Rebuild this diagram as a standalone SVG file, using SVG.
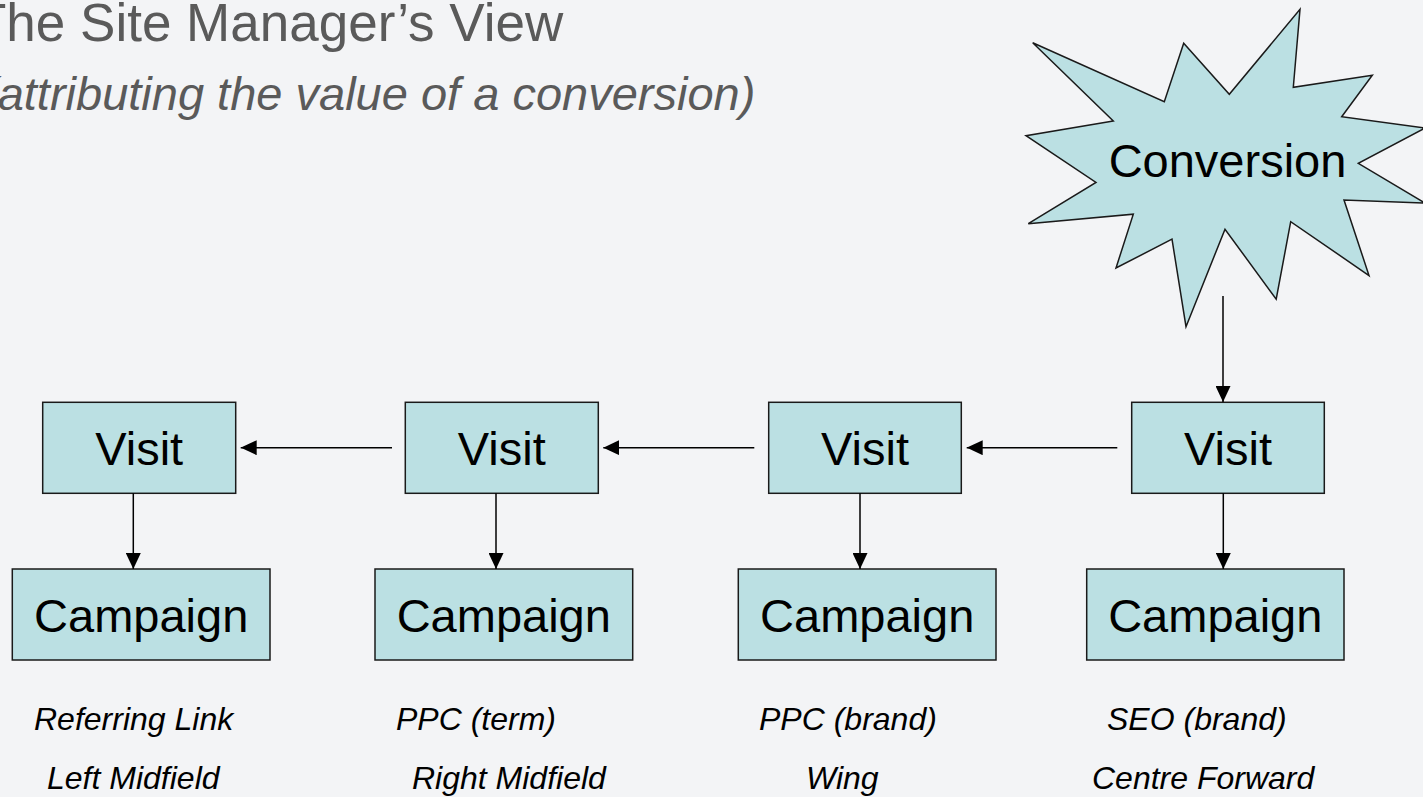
<svg xmlns="http://www.w3.org/2000/svg" width="1423" height="797" viewBox="0 0 1423 797">
  <style>
    .box { fill: #BBE0E3; stroke: #1a1a1a; stroke-width: 1.5; }
    .node-text { font-family: "Liberation Sans", Arial, sans-serif; font-size: 47px; fill: #000; text-anchor: middle; }
    .label { font-family: "Liberation Sans", Arial, sans-serif; font-size: 32px; font-style: italic; fill: #000; }
    .title { font-family: "Liberation Sans", Arial, sans-serif; fill: #5a5a5a; }
    .conn { stroke: #000; stroke-width: 1.5; fill: none; marker-end: url(#arrow); }
  </style>
  <defs>
    <marker id="arrow" viewBox="0 0 16 15" refX="16" refY="7.5" markerWidth="16" markerHeight="15" markerUnits="userSpaceOnUse" orient="auto">
      <path d="M0,0 L16,7.5 L0,15 z" fill="#000"/>
    </marker>
  </defs>
  <rect x="0" y="0" width="1423" height="797" fill="#F3F4F6"/>

  <g id="title">
    <text class="title" x="-26" y="41" font-size="53">The Site Manager’s View</text>
    <text class="title" x="-18" y="110" font-size="47" font-style="italic">(attributing the value of a conversion)</text>
  </g>

  <g id="conversion">
    <polygon class="box" points="1032.7,42.7 1164.3,101.7 1183.7,43.3 1229.3,94.3 1300,9.3 1293.3,87.3 1372.3,75.3 1341.7,116.7 1425,128 1358.3,163.3 1425,203 1344,200 1369,275.5 1290.7,221.7 1276.2,299.2 1225,229.2 1186,326.7 1172,239.2 1116,268 1133.3,214.2 1028.3,223.7 1096,182.5 1026,135.7 1113.3,121"/>
    <text class="node-text" x="1227.5" y="177" font-size="48">Conversion</text>
  </g>

  <g id="visit1">
    <rect class="box" x="42.7" y="402.3" width="193" height="91"/>
    <text class="node-text" x="139.2" y="465">Visit</text>
  </g>
  <g id="visit2">
    <rect class="box" x="405.3" y="402.3" width="193" height="91"/>
    <text class="node-text" x="501.8" y="465">Visit</text>
  </g>
  <g id="visit3">
    <rect class="box" x="768.7" y="402.3" width="192.6" height="91"/>
    <text class="node-text" x="865" y="465">Visit</text>
  </g>
  <g id="visit4">
    <rect class="box" x="1131.7" y="402.3" width="192.6" height="91"/>
    <text class="node-text" x="1228" y="465">Visit</text>
  </g>

  <g id="campaign1">
    <rect class="box" x="12.3" y="569" width="257.7" height="91"/>
    <text class="node-text" x="141.2" y="632">Campaign</text>
  </g>
  <g id="campaign2">
    <rect class="box" x="375" y="569" width="257.7" height="91"/>
    <text class="node-text" x="503.8" y="632">Campaign</text>
  </g>
  <g id="campaign3">
    <rect class="box" x="738.3" y="569" width="257.7" height="91"/>
    <text class="node-text" x="867.2" y="632">Campaign</text>
  </g>
  <g id="campaign4">
    <rect class="box" x="1086.7" y="569" width="257.3" height="91"/>
    <text class="node-text" x="1215.3" y="632">Campaign</text>
  </g>

  <g id="connectors">
    <line class="conn" x1="1223" y1="296" x2="1223" y2="402"/>
    <line class="conn" x1="1117.3" y1="447.7" x2="966.7" y2="447.7"/>
    <line class="conn" x1="754.3" y1="447.7" x2="603.3" y2="447.7"/>
    <line class="conn" x1="392" y1="447.7" x2="240.7" y2="447.7"/>
    <line class="conn" x1="133.3" y1="493.3" x2="133.3" y2="569"/>
    <line class="conn" x1="496" y1="493.3" x2="496" y2="569"/>
    <line class="conn" x1="860" y1="493.3" x2="860" y2="569"/>
    <line class="conn" x1="1223.3" y1="493.3" x2="1223.3" y2="569"/>
  </g>

  <g id="labels">
    <text class="label" x="34" y="730">Referring Link</text>
    <text class="label" x="47" y="789">Left Midfield</text>
    <text class="label" x="396" y="730">PPC (term)</text>
    <text class="label" x="412" y="789">Right Midfield</text>
    <text class="label" x="759" y="730">PPC (brand)</text>
    <text class="label" x="806" y="789">Wing</text>
    <text class="label" x="1107" y="730">SEO (brand)</text>
    <text class="label" x="1092" y="789">Centre Forward</text>
  </g>
</svg>
